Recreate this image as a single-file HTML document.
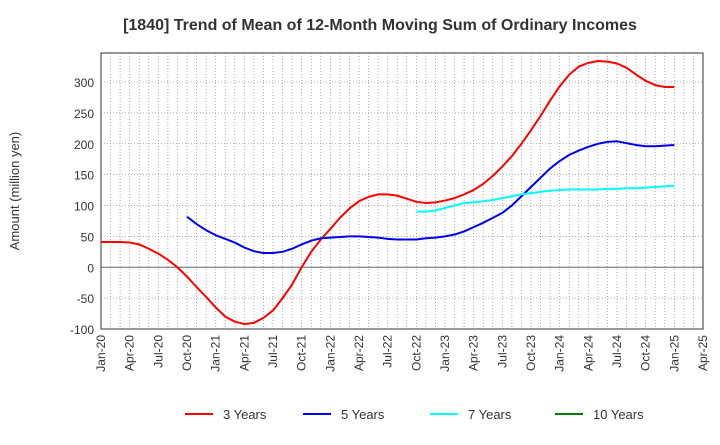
<!DOCTYPE html>
<html><head><meta charset="utf-8"><style>
body{margin:0;background:#fff;font-family:"Liberation Sans",Arial,sans-serif}
svg text{font-family:"Liberation Sans",Arial,sans-serif}
</style></head><body>
<svg id="c" width="720" height="440" xmlns="http://www.w3.org/2000/svg">
<text x="380" y="30" text-anchor="middle" font-size="16" font-weight="bold" fill="#333">[1840]  Trend of Mean of 12-Month Moving Sum of Ordinary Incomes</text>
<text transform="translate(19,191) rotate(-90)" text-anchor="middle" font-size="13" fill="#333">Amount (million yen)</text>
<g id="grid"></g><g id="axes"></g><g id="series"></g><g id="legend"></g>
</svg>
<script>
const xLabels=["Jan-20","Apr-20","Jul-20","Oct-20","Jan-21","Apr-21","Jul-21","Oct-21","Jan-22","Apr-22","Jul-22","Oct-22","Jan-23","Apr-23","Jul-23","Oct-23","Jan-24","Apr-24","Jul-24","Oct-24","Jan-25","Apr-25"];
const yTicks=[-100,-50,0,50,100,150,200,250,300];
const seriesNames=["3 Years","5 Years","7 Years","10 Years"];
const seriesColors=["#ff0000","#0000ee","#00ffff","#008000"];
const s3Start=0;
const s3=[41,41,41,40,37,30,22,12,0,-15,-32,-48,-65,-80,-88,-92,-90,-82,-70,-50,-28,0,25,45,62,80,95,107,114,118,118,116,111,106,104,105,108,112,118,125,135,148,163,180,200,222,245,270,293,312,325,331,334,333,330,323,312,302,295,292,292];
const s5Start=9;
const s5=[82,70,60,52,46,40,32,26,23,23,25,30,37,43,47,48,49,50,50,49,48,46,45,45,45,47,48,50,53,58,65,72,80,88,100,115,130,145,160,172,182,189,195,200,203,204,201,198,196,196,197,198];
const s7Start=33;
const s7=[90,90,92,96,100,104,105,107,109,112,115,118,120,122,124,125,126,126,126,126,127,127,128,128,129,130,131,132];
const s10Start=0;
const s10=[];
const L=101,R=703,T=53,B=329,yMin=-100,yMax=347;
const nMonths=(xLabels.length-1)*3;
const X=m=>L+(R-L)*m/nMonths;
const Y=v=>B-(B-T)*(v-yMin)/(yMax-yMin);
const NS="http://www.w3.org/2000/svg";
function mk(tag,parent,attrs){const e=document.createElementNS(NS,tag);for(const k in attrs)e.setAttribute(k,attrs[k]);parent.appendChild(e);return e;}
const grid=document.getElementById('grid'),axes=document.getElementById('axes'),ser=document.getElementById('series'),leg=document.getElementById('legend');
for(let m=1;m<nMonths;m++){const l=mk('line',grid,{x1:X(m),x2:X(m),y1:T,y2:B,stroke:'#999','stroke-width':0.8,'stroke-dasharray':'1,2'});

}
yTicks.forEach(v=>{const l=mk('line',grid,{x1:L,x2:R,y1:Y(v),y2:Y(v),stroke:v===0?'#666':'#999','stroke-width':v===0?1:0.8,'stroke-dasharray':v===0?'':'1,2'});


const t=mk('text',axes,{x:L-7,y:Y(v)+5,'text-anchor':'end','font-size':12,fill:'#333'});t.textContent=v;

});
const fr=mk('rect',axes,{x:L,y:T,width:R-L,height:B-T,fill:'none',stroke:'#333','stroke-width':1});


xLabels.forEach((s,i)=>{const x=X(i*3);const t=mk('text',axes,{transform:`translate(${x+4},${B+6}) rotate(-90)`,'text-anchor':'end','font-size':12,fill:'#333'});t.textContent=s;

});
[[s3,s3Start],[s5,s5Start],[s7,s7Start],[s10,s10Start]].forEach(([d,st],i)=>{if(!d.length)return;
const p=mk('polyline',ser,{points:d.map((v,j)=>X(st+j)+','+Y(v)).join(' '),fill:'none',stroke:seriesColors[i],'stroke-width':2,'stroke-linejoin':'round'});

});
const lx=[185,303,430,555];
seriesNames.forEach((n,i)=>{const g=mk('g',leg,{});


mk('line',g,{x1:lx[i],x2:lx[i]+28,y1:414,y2:414,stroke:seriesColors[i],'stroke-width':2});
const t=mk('text',g,{x:lx[i]+38,y:419,'font-size':13,fill:'#333'});t.textContent=n;});
</script>
</body></html>
